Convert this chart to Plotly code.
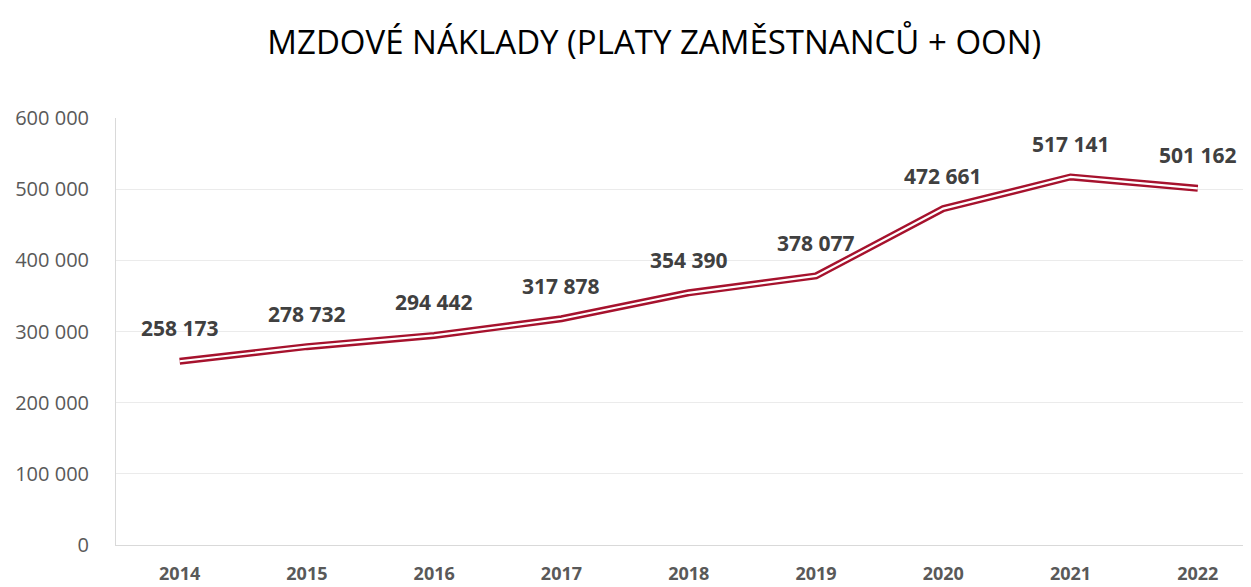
import plotly.graph_objects as go

years = ["2014", "2015", "2016", "2017", "2018", "2019", "2020", "2021", "2022"]
values = [258173, 278732, 294442, 317878, 354390, 378077, 472661, 517141, 501162]
labels = ["258 173", "278 732", "294 442", "317 878", "354 390", "378 077", "472 661", "517 141", "501 162"]
ytick_vals = [0, 100000, 200000, 300000, 400000, 500000, 600000]
ytick_text = ["0", "100 000", "200 000", "300 000", "400 000", "500 000", "600 000"]

red = "#A6122D"
font_family = "Open Sans, Liberation Sans, sans-serif"

fig = go.Figure()
fig.add_trace(go.Scatter(x=years, y=values, mode="lines",
                         line=dict(color=red, width=7), hoverinfo="skip", showlegend=False))
fig.add_trace(go.Scatter(x=years, y=values, mode="lines",
                         line=dict(color="white", width=2.2), hoverinfo="skip", showlegend=False))

for i, (v, t) in enumerate(zip(values, labels)):
    fig.add_annotation(x=i, y=v, xref="x", yref="y", text="<b>" + t + "</b>",
                       showarrow=False, yshift=33,
                       font=dict(family=font_family, size=21, color="#404040"))

fig.update_layout(
    width=1243, height=579,
    paper_bgcolor="white", plot_bgcolor="white",
    margin=dict(l=108, r=1, t=110, b=42, autoexpand=False),
    title=dict(text="MZDOVÉ NÁKLADY (PLATY ZAMĚSTNANCŮ + OON)", x=0.52, xanchor="center",
               y=0.941, yanchor="middle",
               font=dict(family=font_family, size=33, color="#000000")),
    xaxis=dict(type="category", range=[-0.5, 8.41], showgrid=False, automargin=False,
               showline=True, linecolor="#D9D9D9", linewidth=1,
               ticks="outside", ticklen=12, tickcolor="rgba(0,0,0,0)",
               tickfont=dict(family=font_family, size=18, color="#595959", weight="bold")),
    yaxis=dict(range=[0, 600000], tickvals=ytick_vals, ticktext=ytick_text, automargin=False,
               showgrid=True, gridcolor="#EBEBEB", gridwidth=1,
               showline=True, linecolor="#D9D9D9", linewidth=1,
               ticks="outside", ticklen=22, tickcolor="rgba(0,0,0,0)",
               zeroline=False,
               tickfont=dict(family=font_family, size=20, color="#595959")),
)

fig.write_html("out.html")
